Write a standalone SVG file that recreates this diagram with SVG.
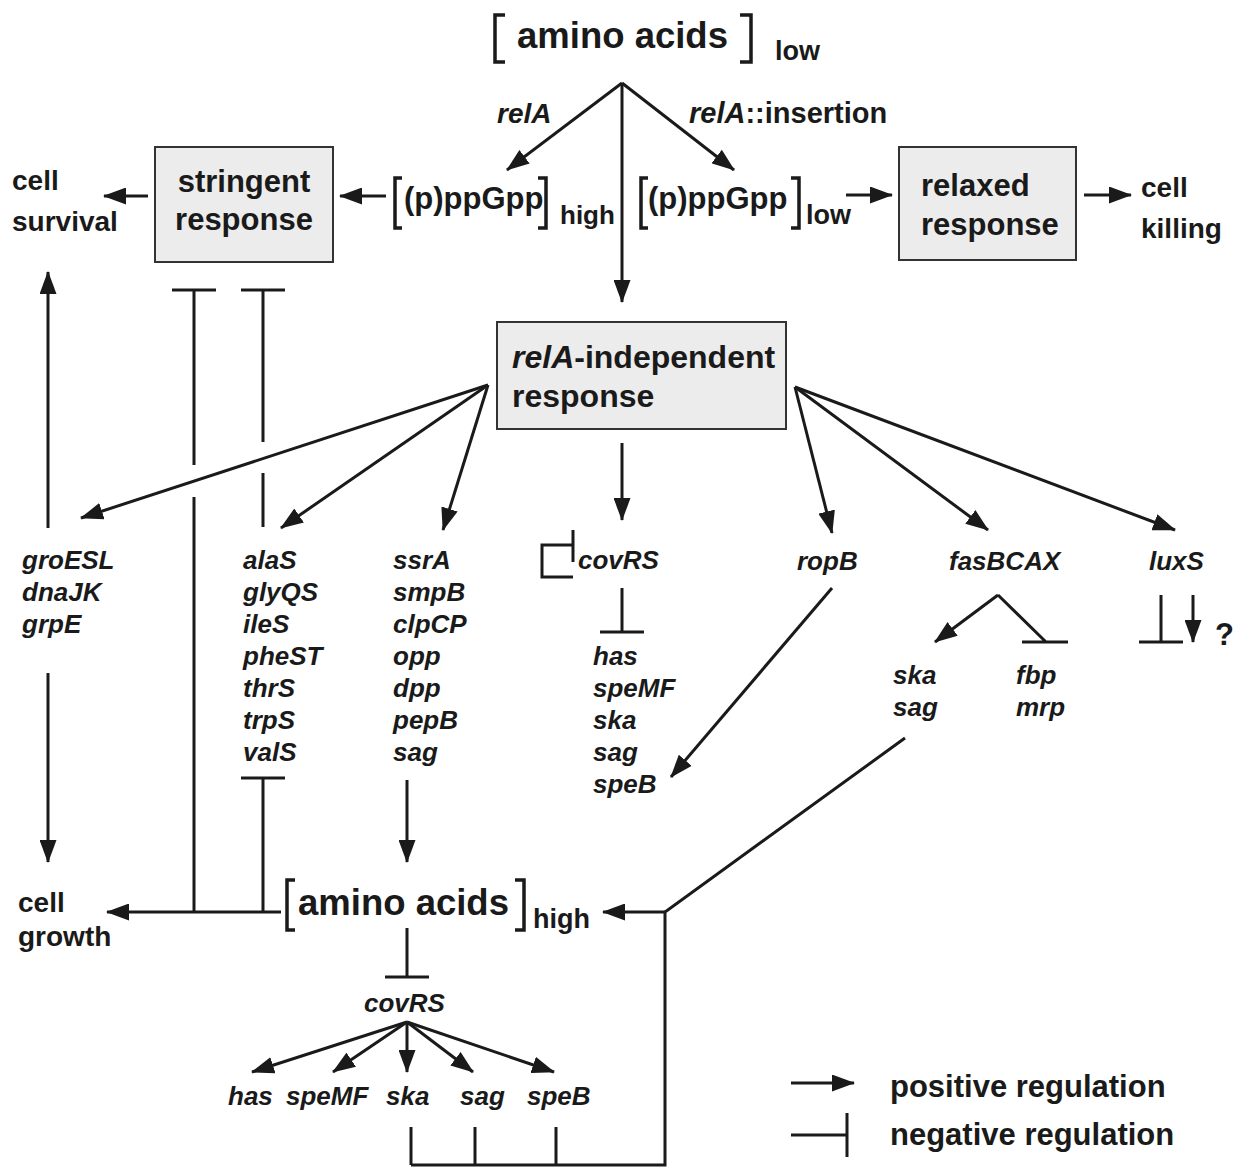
<svg xmlns="http://www.w3.org/2000/svg" width="1233" height="1167" viewBox="0 0 1233 1167">
<defs>
<marker id="arr" viewBox="0 0 23 17" markerWidth="23" markerHeight="17" refX="22" refY="8.5" orient="auto" markerUnits="userSpaceOnUse">
<path d="M0,0 L23,8.5 L0,17 z" fill="#1a1a1a"/>
</marker>
<style>
text{font-family:"Liberation Sans",Arial,sans-serif;fill:#1a1a1a;font-weight:bold}
.g{font-style:italic;font-size:26px}
.lbl{font-size:28px}
.box{fill:#ececec;stroke:#333;stroke-width:2}
.ln{stroke:#1a1a1a;stroke-width:3;fill:none}
.a{stroke:#1a1a1a;stroke-width:3;fill:none;marker-end:url(#arr)}
.br{stroke:#1a1a1a;stroke-width:3.5;fill:none}
</style>
</defs>
<rect width="1233" height="1167" fill="#fff"/>

<g id="aa-low">
<path class="br" d="M505,15 H495 V62 H505"/>
<text x="517" y="48" font-size="36.5">amino acids</text>
<path class="br" d="M740,15 H751 V62 H740"/>
<text x="775" y="60" font-size="27">low</text>
</g>
<g id="relA-label"><text x="497" y="123" font-size="28" font-style="italic">relA</text></g>
<g id="relA-ins-label"><text x="689" y="123" font-size="29"><tspan font-style="italic">relA</tspan>::insertion</text></g>

<g id="ppgpp-high">
<path class="br" d="M402,178 H395 V228 H402"/>
<text x="404" y="209" font-size="31">(p)ppGpp</text>
<path class="br" d="M538,178 H546 V228 H538"/>
<text x="560" y="224" font-size="26">high</text>
</g>
<g id="ppgpp-low">
<path class="br" d="M648,178 H641 V228 H648"/>
<text x="648" y="209" font-size="31">(p)ppGpp</text>
<path class="br" d="M791,178 H799 V228 H791"/>
<text x="806" y="224" font-size="27">low</text>
</g>

<g id="stringent"><rect class="box" x="155" y="147" width="178" height="115"/>
<text x="244" y="192" font-size="31" text-anchor="middle">stringent</text>
<text x="244" y="230" font-size="31" text-anchor="middle">response</text></g>
<g id="relaxed"><rect class="box" x="899" y="147" width="177" height="113"/>
<text x="921" y="196" font-size="31">relaxed</text>
<text x="921" y="235" font-size="31">response</text></g>
<g id="survival"><text class="lbl" x="12" y="190">cell</text><text class="lbl" x="12" y="231">survival</text></g>
<g id="killing"><text class="lbl" x="1141" y="197">cell</text><text class="lbl" x="1141" y="238">killing</text></g>

<g id="relA-indep"><rect class="box" x="497" y="322" width="289" height="107"/>
<text x="512" y="368" font-size="32"><tspan font-style="italic">relA</tspan>-independent</text>
<text x="512" y="407" font-size="32">response</text></g>

<g id="chaperones"><text class="g" x="22" y="569">groESL</text><text class="g" x="22" y="601">dnaJK</text><text class="g" x="22" y="633">grpE</text></g>
<g id="trna"><text class="g" x="243" y="569">alaS</text><text class="g" x="243" y="601">glyQS</text><text class="g" x="243" y="633">ileS</text><text class="g" x="243" y="665">pheST</text><text class="g" x="243" y="697">thrS</text><text class="g" x="243" y="729">trpS</text><text class="g" x="243" y="761">valS</text></g>
<g id="transport"><text class="g" x="393" y="569">ssrA</text><text class="g" x="393" y="601">smpB</text><text class="g" x="393" y="633">clpCP</text><text class="g" x="393" y="665">opp</text><text class="g" x="393" y="697">dpp</text><text class="g" x="393" y="729">pepB</text><text class="g" x="393" y="761">sag</text></g>
<g id="covRS-top"><path class="ln" d="M573,530 V562 M573,545 H542 V577 H573"/><text class="g" x="578" y="569">covRS</text></g>
<g id="covRS-targets"><text class="g" x="593" y="665">has</text><text class="g" x="593" y="697">speMF</text><text class="g" x="593" y="729">ska</text><text class="g" x="593" y="761">sag</text><text class="g" x="593" y="793">speB</text></g>
<g id="ropB"><text class="g" x="797" y="570">ropB</text></g>
<g id="fasBCAX"><text class="g" x="949" y="570">fasBCAX</text></g>
<g id="luxS"><text class="g" x="1149" y="570">luxS</text></g>
<g id="fas-pos"><text class="g" x="893" y="684">ska</text><text class="g" x="893" y="716">sag</text></g>
<g id="fas-neg"><text class="g" x="1016" y="684">fbp</text><text class="g" x="1016" y="716">mrp</text></g>
<g id="unknown"><text x="1215" y="645" font-size="31">?</text></g>

<g id="aa-high">
<path class="br" d="M295,880 H287 V930 H295"/>
<text x="298" y="915" font-size="36.5">amino acids</text>
<path class="br" d="M515,880 H524 V930 H515"/>
<text x="533" y="928" font-size="27">high</text>
</g>
<g id="growth"><text class="lbl" x="18" y="912">cell</text><text class="lbl" x="18" y="946">growth</text></g>
<g id="covRS-bottom"><text class="g" x="364" y="1012">covRS</text></g>
<g id="bottom-targets"><text class="g" x="228" y="1105">has</text><text class="g" x="286" y="1105">speMF</text><text class="g" x="386" y="1105">ska</text><text class="g" x="460" y="1105">sag</text><text class="g" x="527" y="1105">speB</text></g>

<g id="legend">
<line class="a" x1="791" y1="1083" x2="854" y2="1083"/>
<text x="890" y="1097" font-size="31">positive regulation</text>
<path class="ln" d="M791,1135 H847 M847,1113 V1157"/>
<text x="890" y="1145" font-size="31">negative regulation</text>
</g>

<g id="connectors">
<line class="a" x1="622" y1="83" x2="507" y2="170"/>
<line class="a" x1="622" y1="83" x2="622" y2="302"/>
<line class="a" x1="622" y1="83" x2="734" y2="170"/>
<line class="a" x1="386" y1="196" x2="340" y2="196"/>
<line class="a" x1="148" y1="196" x2="104" y2="196"/>
<line class="a" x1="846" y1="195" x2="892" y2="195"/>
<line class="a" x1="1084" y1="195" x2="1131" y2="195"/>
<line class="a" x1="488" y1="385" x2="81" y2="518"/>
<line class="a" x1="488" y1="385" x2="281" y2="528"/>
<line class="a" x1="488" y1="385" x2="443" y2="530"/>
<line class="a" x1="622" y1="443" x2="622" y2="520"/>
<line class="a" x1="795" y1="387" x2="832" y2="533"/>
<line class="a" x1="795" y1="387" x2="988" y2="530"/>
<line class="a" x1="795" y1="387" x2="1175" y2="530"/>
<line class="a" x1="48" y1="528" x2="48" y2="272"/>
<line class="a" x1="48" y1="673" x2="48" y2="862"/>
<path class="ln" d="M172,290 H216 M194,290 V465 M194,497 V912"/>
<path class="ln" d="M241,290 H285 M263,290 V442 M263,473 V527"/>
<path class="ln" d="M241,778 H285 M263,778 V912"/>
<line class="a" x1="281" y1="912" x2="107" y2="912"/>
<path class="ln" d="M622,588 V632 M600,632 H644"/>
<line class="a" x1="832" y1="588" x2="671" y2="777"/>
<line class="a" x1="998" y1="595" x2="935" y2="642"/>
<path class="ln" d="M998,595 L1046,642 M1022,642 H1068"/>
<path class="ln" d="M1161,595 V642 M1139,642 H1183"/>
<line class="a" x1="1193" y1="595" x2="1193" y2="642"/>
<line class="a" x1="407" y1="780" x2="407" y2="862"/>
<path class="ln" d="M905,738 L665,912 V1165 H411 M475,1165 V1127 M556,1165 V1127 M411,1165 V1127"/>
<line class="a" x1="665" y1="912" x2="603" y2="912"/>
<path class="ln" d="M407,928 V977 M385,977 H429"/>
<line class="a" x1="407" y1="1022" x2="252" y2="1072"/>
<line class="a" x1="407" y1="1022" x2="333" y2="1072"/>
<line class="a" x1="407" y1="1022" x2="407" y2="1072"/>
<line class="a" x1="407" y1="1022" x2="473" y2="1072"/>
<line class="a" x1="407" y1="1022" x2="554" y2="1072"/>
</g>
</svg>
